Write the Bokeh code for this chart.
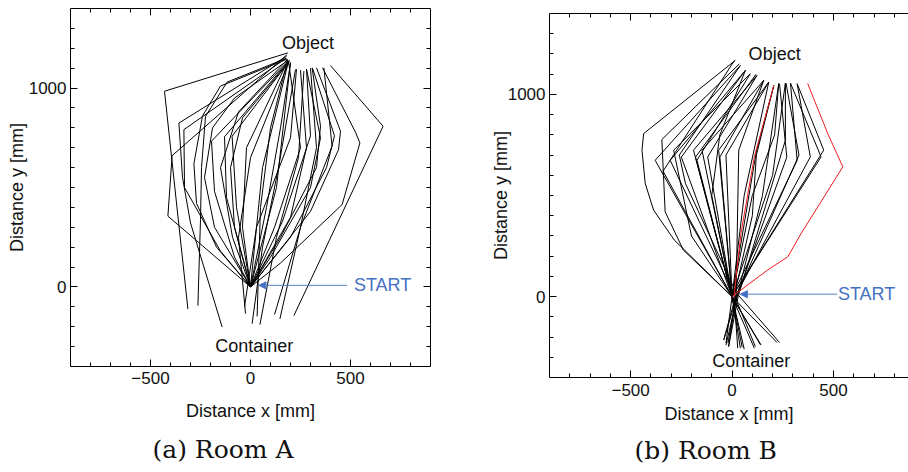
from bokeh.plotting import figure
from bokeh.layouts import row, column
from bokeh.models import Range1d, FixedTicker, LinearAxis, Arrow, NormalHead, Label, Title
from bokeh.embed import file_html
from bokeh.resources import INLINE

# ---------------- Room A trajectories (mm) ----------------
A01_X = [187, -430, -313]
A01_Y = [1177, 984, -111]
A02_X = [183, -392, -413, 0]
A02_Y = [1168, 660, 356, 0]
A03_X = [180, -358, -340, -300, -142]
A03_Y = [1160, 824, 550, 322, -201]
A04_X = [178, -333, -330, -150, 0]
A04_Y = [1150, 791, 500, 180, 0]
A05_X = [180, -117, -225, -245, -250, -263]
A05_Y = [1150, 1030, 858, 600, 340, -94]
A06_X = [182, -150, -240, -283, -270, -170, 0]
A06_Y = [1145, 1010, 860, 620, 420, 200, 0]
A07_X = [183, -195, -180, -80, 0]
A07_Y = [1130, 733, 480, 150, 0]
A08_X = [185, -130, -120, -40, 0]
A08_Y = [1130, 755, 450, 150, 0]
A09_X = [190, -92, -70, 0]
A09_Y = [1130, 758, 400, 0]
A10_X = [188, -20, -40, 0]
A10_Y = [1140, 700, 300, 0]
A11_X = [190, 60, 0]
A11_Y = [1135, 600, 0]
A12_X = [200, 130, 0]
A12_Y = [1130, 500, 0]
A13_X = [195, 0, -60, -25]
A13_Y = [1140, 650, 250, -134]
A14_X = [225, 140, 60, 8]
A14_Y = [1093, 600, 200, -185]
A15_X = [267, 240, 130, 47]
A15_Y = [1085, 650, 250, -190]
A16_X = [308, 350, 330, 150, 0]
A16_Y = [1102, 808, 600, 250, 0]
A17_X = [300, 330, 250, 120]
A17_Y = [1100, 700, 300, -139]
A18_X = [330, 450, 440, 300, 0]
A18_Y = [1102, 783, 690, 380, 0]
A19_X = [360, 525, 547, 458, 150, 0]
A19_Y = [1102, 778, 724, 414, 120, 0]
A20_X = [400, 663, 217]
A20_Y = [1113, 808, -144]
A21_X = [367, 408, 250, 147]
A21_Y = [1102, 708, 300, -161]
A22_X = [250, 280, 200, 0]
A22_Y = [1090, 700, 350, 0]
A23_X = [185, 100, 50, 33]
A23_Y = [1140, 800, 400, -148]
A24_X = [190, 250, 120, 0]
A24_Y = [1135, 700, 300, 0]
A25_X = [186, -60, -150, -90, 0]
A25_Y = [1145, 880, 600, 250, 0]
A26_X = [280, 300, 160, 0]
A26_Y = [1095, 760, 330, 0]
A27_X = [185, -80, -190, -230, -180, 0]
A27_Y = [1138, 950, 800, 550, 300, 0]
A28_X = [190, -40, -100, -80, 0]
A28_Y = [1130, 850, 600, 300, 0]
A29_X = [200, 150, 80, 0]
A29_Y = [1125, 800, 400, 0]
A30_X = [230, 200, 30, -30]
A30_Y = [1095, 750, 300, -100]
A31_X = [280, 350, 300, 100, 0]
A31_Y = [1095, 750, 500, 150, 0]
A32_X = [310, 420, 380, 200, 0]
A32_Y = [1100, 760, 600, 250, 0]

# ---------------- Room B trajectories (mm) ----------------
B01_X = [0, -285, -387, -428, -444, -436, 16]
B01_Y = [0, 280, 428, 560, 723, 806, 1168]
B02_X = [140, 0, -379, 41]
B02_Y = [-238, 0, 674, 1143]
B03_X = [0, -240, -330, -346, 36]
B03_Y = [0, 230, 420, 777, 1151]
B04_X = [115, 10, -305, 66]
B04_Y = [-247, 10, 674, 1119]
B05_X = [0, -200, -288, 90]
B05_Y = [0, 300, 724, 1102]
B06_X = [222, 0, -190, 123]
B06_Y = [-227, 0, 724, 1094]
B07_X = [0, -173, 90]
B07_Y = [0, 674, 1102]
B08_X = [41, 0, -148, 156]
B08_Y = [-255, 0, 724, 1069]
B09_X = [0, -120, 123]
B09_Y = [0, 691, 1094]
B10_X = [0, -66, 181]
B10_Y = [0, 724, 1061]
B11_X = [-17, 20, 33, 156]
B11_Y = [-247, 0, 724, 1069]
B12_X = [0, 60, 181]
B12_Y = [0, 500, 1061]
B13_X = [-41, 30, 150, 230]
B13_Y = [-214, 20, 500, 1053]
B14_X = [-17, 30, 263, 263]
B14_Y = [-247, 0, 773, 1056]
B15_X = [0, 321, 288]
B15_Y = [0, 674, 1056]
B16_X = [-41, 20, 386, 321]
B16_Y = [-214, 10, 691, 1053]
B17_X = [0, 452, 321]
B17_Y = [0, 724, 1053]
B18_X = [-30, 0, 439, 288]
B18_Y = [-230, 0, 691, 1056]
B19_X = [0, 100, 210, 230]
B19_Y = [0, 500, 800, 1053]
B20_X = [0, 200, 263]
B20_Y = [0, 600, 1056]
B21_X = [60, 0, -100, -60, 66]
B21_Y = [-260, 0, 500, 800, 1119]
B22_X = [234, 20, -230, -260, 41]
B22_Y = [-227, 20, 560, 700, 1143]
B23_X = [110, 0, -60, 156]
B23_Y = [-255, 0, 690, 1069]
B24_X = [-30, 30, 270, 234]
B24_Y = [-240, 20, 690, 1053]
B25_X = [143, 0, -340, 12]
B25_Y = [-239, 0, 620, 1168]
B26_X = [28, 10, 100, 120, 206]
B26_Y = [-255, 0, 400, 700, 1044]
B27_X = [0, -250, 66]
B27_Y = [0, 690, 1119]
B28_X = [50, 0, -30, 181]
B28_Y = [-250, 0, 700, 1061]
B29_X = [0, 120, 206]
B29_Y = [0, 720, 1044]
B30_X = [-20, 20, 330, 266]
B30_Y = [-230, 0, 700, 1056]
B31_X = [0, -180, 118]
B31_Y = [0, 690, 1099]
BR1_X = [0, 176, 275, 341, 423, 546, 472, 373]
BR1_Y = [0, 132, 197, 313, 444, 642, 806, 1053]
BR2_X = [10, 20, 44, 110, 206]
BR2_Y = [0, 99, 313, 691, 1044]

ROOM_A = [(A01_X, A01_Y), (A02_X, A02_Y), (A03_X, A03_Y), (A04_X, A04_Y), (A05_X, A05_Y),
          (A06_X, A06_Y), (A07_X, A07_Y), (A08_X, A08_Y), (A09_X, A09_Y), (A10_X, A10_Y),
          (A11_X, A11_Y), (A12_X, A12_Y), (A13_X, A13_Y), (A14_X, A14_Y), (A15_X, A15_Y),
          (A16_X, A16_Y), (A17_X, A17_Y), (A18_X, A18_Y), (A19_X, A19_Y), (A20_X, A20_Y),
          (A21_X, A21_Y), (A22_X, A22_Y), (A23_X, A23_Y), (A24_X, A24_Y), (A25_X, A25_Y),
          (A26_X, A26_Y), (A27_X, A27_Y), (A28_X, A28_Y), (A29_X, A29_Y), (A30_X, A30_Y),
          (A31_X, A31_Y), (A32_X, A32_Y)]
ROOM_B = [(B01_X, B01_Y), (B02_X, B02_Y), (B03_X, B03_Y), (B04_X, B04_Y), (B05_X, B05_Y),
          (B06_X, B06_Y), (B07_X, B07_Y), (B08_X, B08_Y), (B09_X, B09_Y), (B10_X, B10_Y),
          (B11_X, B11_Y), (B12_X, B12_Y), (B13_X, B13_Y), (B14_X, B14_Y), (B15_X, B15_Y),
          (B16_X, B16_Y), (B17_X, B17_Y), (B18_X, B18_Y), (B19_X, B19_Y), (B20_X, B20_Y),
          (B21_X, B21_Y), (B22_X, B22_Y), (B23_X, B23_Y), (B24_X, B24_Y), (B25_X, B25_Y),
          (B26_X, B26_Y), (B27_X, B27_Y), (B28_X, B28_Y), (B29_X, B29_Y), (B30_X, B30_Y),
          (B31_X, B31_Y)]
ROOM_B_RED = [(BR1_X, BR1_Y), (BR2_X, BR2_Y)]

X_MAJOR = [-500, 0, 500]
Y_MAJOR = [0, 1000]
X_MINOR = [-800, -700, -600, -400, -300, -200, -100, 100, 200, 300, 400, 600, 700, 800]
Y_MINOR = [-300, -200, -100, 100, 200, 300, 400, 500, 600, 700, 800, 900, 1100, 1200, 1300]

BLUE = "#4472c4"
BLUE_LINE = "#5a82c4"
SANS = "Liberation Sans"


def style_axis(ax, labels=True):
    ax.axis_line_color = "black"
    ax.axis_line_width = 1
    ax.major_tick_in = 7
    ax.major_tick_out = 0
    ax.minor_tick_in = 4
    ax.minor_tick_out = 0
    ax.major_tick_line_color = "black"
    ax.minor_tick_line_color = "black"
    if labels:
        ax.major_label_text_font = SANS
        ax.major_label_text_font_size = "17px"
        ax.major_label_text_color = "#111111"
        ax.axis_label_text_font = SANS
        ax.axis_label_text_font_size = "18px"
        ax.axis_label_text_font_style = "normal"
        ax.axis_label_text_color = "#111111"
    else:
        ax.major_label_text_font_size = "1px"
        ax.major_label_text_color = None
        ax.major_label_standoff = 0


def make_panel(xr, bl, br, bt, bb, caption, cap_offset, paths, red_paths, ann, right_axis,
               xt_standoff, xl_standoff, yl_standoff, title_standoff):
    p = figure(width=454, height=472, x_range=Range1d(*xr), y_range=Range1d(-400, 1400),
               output_backend="svg", toolbar_location=None,
               min_border_left=bl, min_border_right=br, min_border_top=bt, min_border_bottom=bb,
               title_location="below")
    p.outline_line_color = None
    p.grid.visible = False
    xt = FixedTicker(ticks=X_MAJOR, minor_ticks=X_MINOR)
    yt = FixedTicker(ticks=Y_MAJOR, minor_ticks=Y_MINOR)
    p.xaxis.ticker = xt
    p.yaxis.ticker = yt
    p.xaxis.axis_label = "Distance x [mm]"
    p.yaxis.axis_label = "Distance y [mm]"
    for ax in p.xaxis + p.yaxis:
        style_axis(ax)
    p.xaxis.major_label_standoff = xt_standoff
    p.yaxis.major_label_standoff = 4
    p.xaxis.axis_label_standoff = xl_standoff
    p.yaxis.axis_label_standoff = yl_standoff
    top = LinearAxis(ticker=xt)
    style_axis(top, labels=False)
    p.add_layout(top, "above")
    if right_axis:
        rgt = LinearAxis(ticker=yt)
        style_axis(rgt, labels=False)
        p.add_layout(rgt, "right")

    p.multi_line(xs=[pp[0] for pp in paths], ys=[pp[1] for pp in paths],
                 line_color="black", line_width=1)
    if red_paths:
        p.multi_line(xs=[pp[0] for pp in red_paths], ys=[pp[1] for pp in red_paths],
                     line_color="#ee1c1c", line_width=1)

    (ax0, ay, ax1, tx, obj_xy, cont_xy) = ann
    p.add_layout(Arrow(end=NormalHead(size=7, fill_color=BLUE, line_color=BLUE),
                       x_start=ax1, y_start=ay, x_end=ax0, y_end=ay,
                       line_color=BLUE_LINE, line_width=1))
    p.add_layout(Label(x=tx, y=ay, text="START", text_font=SANS, text_font_size="18px",
                       text_color=BLUE, text_baseline="middle", text_align="left"))
    p.add_layout(Label(x=obj_xy[0], y=obj_xy[1], text="Object", text_font=SANS,
                       text_font_size="18px", text_color="#111111",
                       text_baseline="middle", text_align="center"))
    p.add_layout(Label(x=cont_xy[0], y=cont_xy[1], text="Container", text_font=SANS,
                       text_font_size="18px", text_color="#111111",
                       text_baseline="middle", text_align="center"))
    p.title = Title(text=caption, align="left", offset=cap_offset, text_font="DejaVu Serif",
                    text_font_size="25px", text_font_style="normal", text_color="#111111",
                    standoff=title_standoff)
    return p


pa = make_panel((-900, 900), 70, 24, 8, 104, "(a) Room A", 82, ROOM_A, None,
                (42, 8, 483, 517, (287, 1227), (19, -299)), True, 5, 14, -1, 18)
pb = make_panel((-900, 870), 95, 0, 13, 94, "(b) Room B", 85, ROOM_B, ROOM_B_RED,
                (41, 12, 518, 522, (210, 1201), (95, -320)), False, 6, 5, -6, 15)

layout = row(column(pa), column(pb))
open("out.html", "w").write(file_html(layout, INLINE))
